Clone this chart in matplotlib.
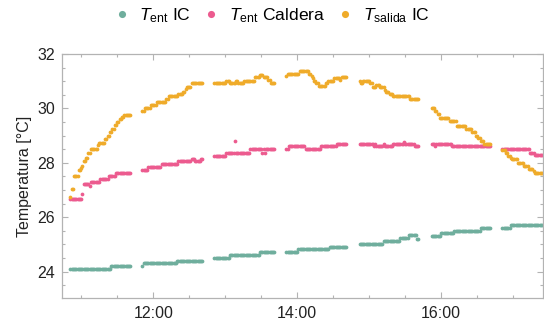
import numpy as np
import matplotlib
matplotlib.use("Agg")
import matplotlib.pyplot as plt
from matplotlib.ticker import MultipleLocator, FuncFormatter

plt.rcParams['font.family'] = ['Liberation Sans', 'DejaVu Sans']
plt.rcParams['mathtext.fontset'] = 'custom'
plt.rcParams['mathtext.rm'] = 'Liberation Sans'
plt.rcParams['mathtext.it'] = 'Liberation Sans:italic'

# runs of constant reading: (first minute, last minute, value in degC)
t_ent_ic_runs = [
    ("10:51", "11:24", 24.10), ("11:25", "11:41", 24.21),
    ("11:51", "11:51", 24.21), ("11:52", "12:19", 24.30), ("12:20", "12:41", 24.40),
    ("12:51", "13:03", 24.50), ("13:04", "13:28", 24.62), ("13:29", "13:41", 24.72),
    ("13:51", "14:00", 24.72), ("14:01", "14:26", 24.82), ("14:27", "14:41", 24.91),
    ("14:52", "15:11", 25.01), ("15:12", "15:25", 25.11), ("15:26", "15:32", 25.22),
    ("15:33", "15:39", 25.33), ("15:40", "15:41", 25.20),
    ("15:52", "15:59", 25.31), ("16:00", "16:10", 25.41), ("16:11", "16:32", 25.50),
    ("16:33", "16:41", 25.60),
    ("16:51", "16:57", 25.60), ("16:58", "17:24", 25.70),
]

t_ent_caldera_runs = [
    ("10:51", "11:00", 26.66), ("11:01", "11:01", 26.87), ("11:02", "11:06", 27.22),
    ("11:07", "11:07", 27.15), ("11:08", "11:15", 27.30), ("11:16", "11:22", 27.42),
    ("11:23", "11:28", 27.53), ("11:29", "11:41", 27.63),
    ("11:51", "11:55", 27.73), ("11:56", "12:06", 27.86), ("12:07", "12:20", 27.97),
    ("12:21", "12:31", 28.06), ("12:32", "12:34", 28.15), ("12:35", "12:39", 28.06),
    ("12:40", "12:41", 28.15),
    ("12:51", "13:00", 28.25), ("13:01", "13:07", 28.37), ("13:08", "13:08", 28.80),
    ("13:09", "13:20", 28.37), ("13:21", "13:30", 28.50), ("13:31", "13:31", 28.37),
    ("13:32", "13:32", 28.50), ("13:33", "13:33", 28.37), ("13:34", "13:41", 28.50),
    ("13:51", "13:52", 28.50), ("13:53", "14:06", 28.60), ("14:07", "14:19", 28.50),
    ("14:20", "14:32", 28.60), ("14:33", "14:41", 28.68),
    ("14:52", "15:03", 28.68), ("15:04", "15:04", 28.60), ("15:05", "15:05", 28.68),
    ("15:06", "15:11", 28.60), ("15:12", "15:12", 28.68), ("15:13", "15:19", 28.60),
    ("15:20", "15:28", 28.68), ("15:29", "15:29", 28.76), ("15:30", "15:37", 28.68),
    ("15:38", "15:41", 28.60),
    ("15:52", "15:54", 28.68), ("15:55", "15:55", 28.60), ("15:56", "16:08", 28.68),
    ("16:09", "16:41", 28.60),
    ("16:51", "17:13", 28.50), ("17:14", "17:17", 28.37), ("17:18", "17:24", 28.27),
]

t_salida_ic_runs = [
    ("10:51", "10:51", 26.73), ("10:52", "10:53", 27.05), ("10:54", "10:57", 27.53),
    ("10:58", "10:59", 27.72), ("11:00", "11:00", 27.80), ("11:01", "11:01", 27.90),
    ("11:02", "11:03", 28.06), ("11:04", "11:05", 28.19), ("11:06", "11:07", 28.37),
    ("11:08", "11:13", 28.50), ("11:14", "11:14", 28.65), ("11:15", "11:19", 28.74),
    ("11:20", "11:21", 28.86), ("11:22", "11:23", 28.98), ("11:24", "11:25", 29.13),
    ("11:26", "11:27", 29.23), ("11:28", "11:29", 29.38), ("11:30", "11:31", 29.50),
    ("11:32", "11:33", 29.60), ("11:34", "11:35", 29.70), ("11:36", "11:41", 29.75),
    ("11:51", "11:52", 29.90), ("11:53", "11:57", 30.03), ("11:58", "12:02", 30.12),
    ("12:03", "12:10", 30.24), ("12:11", "12:12", 30.34), ("12:13", "12:20", 30.44),
    ("12:21", "12:24", 30.54), ("12:25", "12:26", 30.62), ("12:27", "12:27", 30.70),
    ("12:28", "12:31", 30.80), ("12:32", "12:41", 30.93),
    ("12:51", "13:00", 30.93), ("13:01", "13:03", 31.02), ("13:04", "13:08", 30.93),
    ("13:09", "13:10", 31.02), ("13:11", "13:15", 30.93), ("13:16", "13:24", 31.02),
    ("13:25", "13:28", 31.14), ("13:29", "13:31", 31.22), ("13:32", "13:35", 31.14),
    ("13:36", "13:37", 31.05), ("13:38", "13:41", 30.95),
    ("13:51", "13:51", 31.20), ("13:52", "14:01", 31.28), ("14:02", "14:09", 31.36),
    ("14:10", "14:11", 31.26), ("14:12", "14:12", 31.18), ("14:13", "14:13", 31.10),
    ("14:14", "14:15", 31.00), ("14:16", "14:17", 30.93), ("14:18", "14:23", 30.83),
    ("14:24", "14:25", 30.93), ("14:26", "14:30", 31.00), ("14:31", "14:35", 31.10),
    ("14:36", "14:36", 31.05), ("14:37", "14:41", 31.14),
    ("14:52", "14:52", 31.00), ("14:53", "14:54", 30.93), ("14:55", "15:00", 31.02),
    ("15:01", "15:02", 30.93), ("15:03", "15:05", 30.77), ("15:06", "15:08", 30.85),
    ("15:09", "15:12", 30.77), ("15:13", "15:13", 30.68), ("15:14", "15:16", 30.59),
    ("15:17", "15:19", 30.52), ("15:20", "15:33", 30.44), ("15:34", "15:41", 30.34),
    ("15:52", "15:54", 30.02), ("15:55", "15:56", 29.90), ("15:57", "15:58", 29.78),
    ("15:59", "16:06", 29.66), ("16:07", "16:12", 29.54), ("16:13", "16:20", 29.35),
    ("16:21", "16:25", 29.23), ("16:26", "16:28", 29.12), ("16:29", "16:30", 29.00),
    ("16:31", "16:32", 28.92), ("16:33", "16:35", 28.82), ("16:36", "16:41", 28.70),
    ("16:51", "16:53", 28.47), ("16:54", "16:55", 28.37), ("16:56", "16:57", 28.25),
    ("16:58", "16:58", 28.18), ("16:59", "17:03", 28.13), ("17:04", "17:08", 28.00),
    ("17:09", "17:12", 27.88), ("17:13", "17:16", 27.76), ("17:17", "17:17", 27.70),
    ("17:18", "17:24", 27.63),
]

labels = [r"$T_{\mathrm{ent}}$ IC", r"$T_{\mathrm{ent}}$ Caldera", r"$T_{\mathrm{salida}}$ IC"]
colors = ["#6fae9d", "#ec5b8f", "#efab2a"]


def minutes(s):
    h, m = s.split(":")
    return int(h) * 60 + int(m)


def expand(runs):
    # one sample per minute inside each run
    t, v = [], []
    for start, end, val in runs:
        for m in range(minutes(start), minutes(end) + 1):
            t.append(m / 60)
            v.append(val)
    return np.array(t), np.array(v)


fig = plt.figure(figsize=(5.44, 3.27), dpi=100)
ax = fig.add_axes([62 / 544, 29 / 327, 481 / 544, 244 / 327])

for runs, col, lab in zip([t_ent_ic_runs, t_ent_caldera_runs, t_salida_ic_runs], colors, labels):
    t, v = expand(runs)
    ax.plot(t, v, 'o', ms=2.7, mew=0, color=col, label=lab)

ax.set_xlim(10.732, 17.414)
ax.set_ylim(23.03, 32.0)

ax.xaxis.set_major_locator(MultipleLocator(2))
ax.xaxis.set_minor_locator(MultipleLocator(0.5))
ax.xaxis.set_major_formatter(FuncFormatter(lambda x, p: f"{int(round(x)):02d}:00"))
ax.yaxis.set_major_locator(MultipleLocator(2))
ax.yaxis.set_minor_locator(MultipleLocator(0.5))

frame_col = "#b3b3b3"
for s in ax.spines.values():
    s.set_color(frame_col)
    s.set_linewidth(0.9)
ax.tick_params(which='both', direction='in', color=frame_col, width=0.8,
               top=True, right=True, labelsize=11.5, labelcolor='#222222')
ax.tick_params(which='major', length=4.3)
ax.tick_params(which='minor', length=2.4)
ax.tick_params(axis='y', pad=5)
ax.tick_params(axis='x', pad=6)

ax.set_ylabel("Temperatura [°C]", fontsize=11.5, color='#222222', labelpad=4)

fig.legend(loc='upper center', bbox_to_anchor=(0.5, 1.012), ncol=3, frameon=False,
           fontsize=12.6, markerscale=1.9, handlelength=0.8, handletextpad=0.6,
           columnspacing=0.75, borderaxespad=0.2)

fig.savefig("out.png", dpi=100)
